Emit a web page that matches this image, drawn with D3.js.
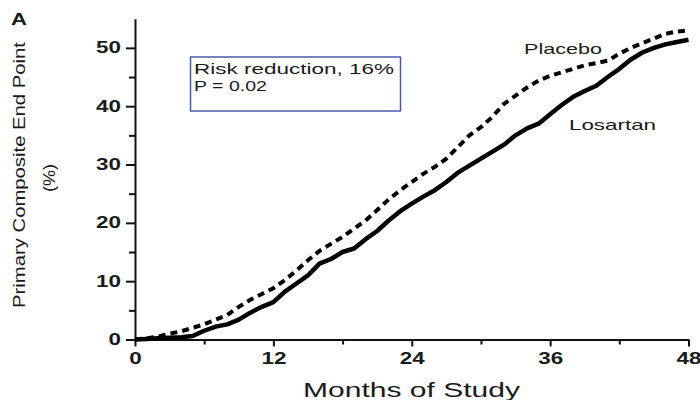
<!DOCTYPE html>
<html>
<head>
<meta charset="utf-8">
<script src="https://cdn.jsdelivr.net/npm/d3@7"></script>
<style>
  body { margin: 0; background: #fff; }
  svg { display: block; font-family: "Liberation Sans", Arial, sans-serif; }
  .axis path, .axis line { stroke: #111; stroke-width: 2; }
  .axis text { fill: #1a1a1a; font-weight: bold; font-size: 16px; font-family: "Liberation Sans", Arial, sans-serif; }
</style>
</head>
<body>
<svg id="chart" width="700" height="400"></svg>
<script>
// months of study
var months = [0, 1, 2, 3, 4, 5, 6, 7, 8, 9, 10, 11, 12, 13, 14, 15, 16, 17, 18, 19, 20, 21, 22, 23, 24,
  25, 26, 27, 28, 29, 30, 31, 32, 33, 34, 35, 36, 37, 38, 39, 40, 41, 42, 43, 44, 45, 46, 47, 48];

// primary composite end point (%)
var losartan = [0, 0.1, 0.2, 0.3, 0.4, 0.6, 1.5, 2.2, 2.6, 3.4, 4.6, 5.6, 6.4, 8.2, 9.6, 11.0, 13.0, 13.8, 15.0, 15.6,
  17.2, 18.6, 20.4, 22.0, 23.3, 24.5, 25.6, 27.0, 28.6, 29.8, 31.0, 32.2, 33.4, 35.0, 36.2, 37.0, 38.6, 40.2, 41.6,
  42.6, 43.5, 45.0, 46.4, 48.0, 49.2, 50.0, 50.6, 51.0, 51.4];
var placebo = [0, 0.2, 0.5, 1.0, 1.4, 2.0, 2.6, 3.4, 4.2, 5.6, 6.8, 7.8, 8.8, 10.2, 11.8, 13.6, 15.2, 16.4, 17.6, 19.0,
  20.4, 22.2, 24.0, 25.6, 27.0, 28.4, 29.6, 31.0, 33.0, 35.0, 36.4, 38.2, 40.4, 41.8, 43.2, 44.4, 45.2, 45.8, 46.4,
  47.0, 47.4, 47.8, 49.0, 50.0, 50.8, 51.6, 52.4, 52.8, 53.0];

var xTicks = [0, 12, 24, 36, 48];
var xMinor = [6, 18, 30, 42];
var yTicks = [0, 10, 20, 30, 40, 50];
var yMinor = [5, 15, 25, 35, 45];

var svg = d3.select("#chart");

var x = d3.scaleLinear().domain([0, 48]).range([135, 688.5]);
var y = d3.scaleLinear().domain([0, 55]).range([339.5, 18.7]);

// glyphs in the figure are drawn wider than the font
function stretch(sel, k) {
  sel.each(function() {
    var w = this.getComputedTextLength();
    d3.select(this).attr("textLength", w * k).attr("lengthAdjust", "spacingAndGlyphs");
  });
}

// minor ticks
svg.append("g")
  .attr("class", "axis")
  .attr("transform", "translate(0,339.5)")
  .call(d3.axisBottom(x).tickValues(xMinor).tickSize(5).tickSizeOuter(0).tickFormat(""))
  .select(".domain").remove();
svg.append("g")
  .attr("class", "axis")
  .attr("transform", "translate(135,0)")
  .call(d3.axisLeft(y).tickValues(yMinor).tickSize(6).tickSizeOuter(0).tickFormat(""))
  .select(".domain").remove();

// major axes
var gX = svg.append("g")
  .attr("class", "axis")
  .attr("transform", "translate(0,339.5)")
  .call(d3.axisBottom(x).tickValues(xTicks).tickSize(7).tickSizeOuter(0).tickPadding(6));
gX.selectAll("text").call(stretch, 1.4);

var gY = svg.append("g")
  .attr("class", "axis")
  .attr("transform", "translate(135,0)")
  .call(d3.axisLeft(y).tickValues(yTicks).tickSize(9).tickSizeOuter(0).tickPadding(5));
gY.selectAll("text").call(stretch, 1.4);

// curves
var line = function(vals) {
  return d3.line()
    .x(function(d, i) { return x(months[i]); })
    .y(function(d) { return y(d); })(vals);
};

svg.append("path")
  .attr("d", line(losartan))
  .attr("fill", "none")
  .attr("stroke", "#000")
  .attr("stroke-width", 4.5)
  .attr("stroke-linejoin", "round");

svg.append("path")
  .attr("d", line(placebo))
  .attr("fill", "none")
  .attr("stroke", "#000")
  .attr("stroke-width", 4)
  .attr("stroke-dasharray", "7,5");

// curve labels
svg.append("text")
  .attr("x", 524).attr("y", 54)
  .attr("font-size", 15).attr("fill", "#1a1a1a")
  .attr("textLength", 78).attr("lengthAdjust", "spacingAndGlyphs")
  .text("Placebo");
svg.append("text")
  .attr("x", 569).attr("y", 130)
  .attr("font-size", 15).attr("fill", "#1a1a1a")
  .attr("textLength", 87).attr("lengthAdjust", "spacingAndGlyphs")
  .text("Losartan");

// annotation box
svg.append("rect")
  .attr("x", 190.5).attr("y", 57)
  .attr("width", 210).attr("height", 54)
  .attr("fill", "none")
  .attr("stroke", "#4b5ba6")
  .attr("stroke-width", 1.5);
svg.append("text")
  .attr("x", 194).attr("y", 74)
  .attr("font-size", 15).attr("fill", "#1a1a1a")
  .attr("textLength", 200).attr("lengthAdjust", "spacingAndGlyphs")
  .text("Risk reduction, 16%");
svg.append("text")
  .attr("x", 194).attr("y", 91)
  .attr("font-size", 15).attr("fill", "#1a1a1a")
  .attr("textLength", 73).attr("lengthAdjust", "spacingAndGlyphs")
  .text("P = 0.02");

// panel letter
svg.append("text")
  .attr("x", 11).attr("y", 25)
  .attr("font-size", 17).attr("font-weight", "bold").attr("fill", "#1a1a1a")
  .attr("textLength", 16).attr("lengthAdjust", "spacingAndGlyphs")
  .text("A");

// axis titles
svg.append("text")
  .attr("transform", "translate(25,175) rotate(-90)")
  .attr("text-anchor", "middle")
  .attr("font-size", 17).attr("fill", "#1a1a1a")
  .attr("textLength", 266).attr("lengthAdjust", "spacingAndGlyphs")
  .text("Primary Composite End Point");
svg.append("text")
  .attr("transform", "translate(55,178) rotate(-90)")
  .attr("text-anchor", "middle")
  .attr("font-size", 17).attr("fill", "#1a1a1a")
  .attr("textLength", 28).attr("lengthAdjust", "spacingAndGlyphs")
  .text("(%)");
svg.append("text")
  .attr("x", 411.5).attr("y", 397)
  .attr("text-anchor", "middle")
  .attr("font-size", 21).attr("fill", "#1a1a1a")
  .attr("textLength", 217).attr("lengthAdjust", "spacingAndGlyphs")
  .text("Months of Study");
</script>
</body>
</html>
